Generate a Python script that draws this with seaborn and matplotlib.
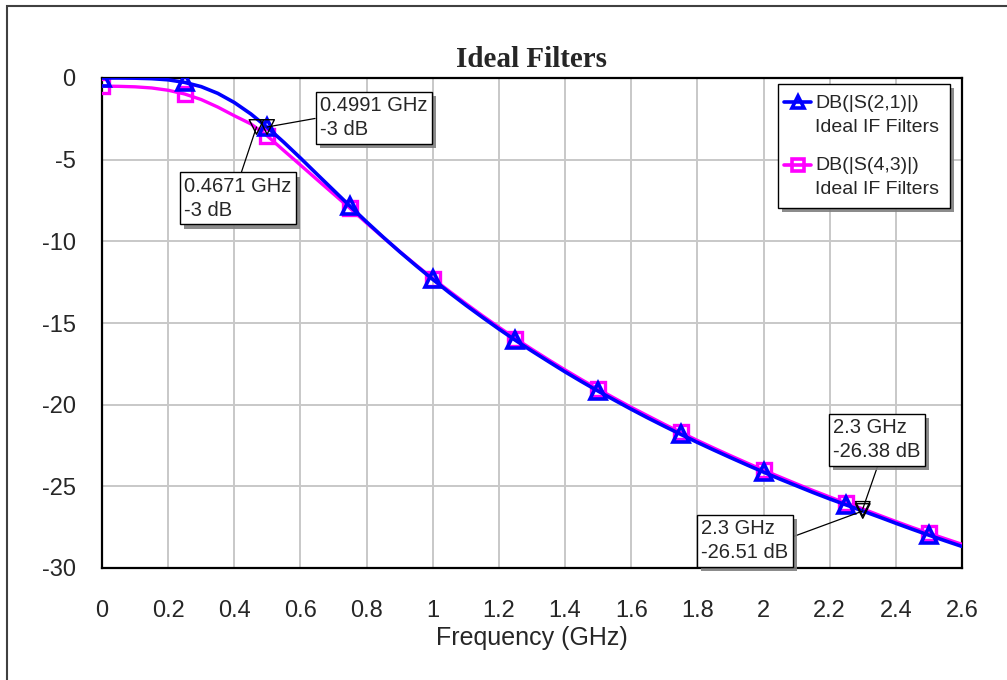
"""Ideal IF filter response, S21 vs S43 in dB."""

import matplotlib

matplotlib.use("Agg")

import matplotlib.patheffects as pe
import pandas as pd
import seaborn as sns
from matplotlib import pyplot as plt
from matplotlib.lines import Line2D
from matplotlib.patches import Rectangle

freq_ghz = [
    0.00, 0.05, 0.10, 0.15, 0.20, 0.25, 0.30, 0.35, 0.40, 0.45, 0.50,
    0.55, 0.60, 0.65, 0.70, 0.75, 0.80, 0.85, 0.90, 0.95, 1.00,
    1.05, 1.10, 1.15, 1.20, 1.25, 1.30, 1.35, 1.40, 1.45, 1.50,
    1.55, 1.60, 1.65, 1.70, 1.75, 1.80, 1.85, 1.90, 1.95, 2.00,
    2.05, 2.10, 2.15, 2.20, 2.25, 2.30, 2.35, 2.40, 2.45, 2.50,
    2.55, 2.60,
]
s21_db = [
    0.00, 0.00, -0.01, -0.04, -0.11, -0.27, -0.53, -0.94, -1.50, -2.20, -3.03,
    -3.94, -4.90, -5.89, -6.87, -7.85, -8.81, -9.74, -10.64, -11.50, -12.33,
    -13.14, -13.91, -14.65, -15.37, -16.06, -16.72, -17.36, -17.99, -18.59, -19.17,
    -19.73, -20.28, -20.81, -21.32, -21.82, -22.31, -22.78, -23.24, -23.69, -24.13,
    -24.56, -24.97, -25.38, -25.77, -26.14, -26.51, -26.88, -27.26, -27.63, -27.99,
    -28.34, -28.68,
]
s43_db = [
    -0.50, -0.51, -0.54, -0.61, -0.75, -0.98, -1.32, -1.78, -2.31, -2.81, -3.55,
    -4.45, -5.33, -6.22, -7.10, -7.98, -8.88, -9.76, -10.62, -11.46, -12.28,
    -13.05, -13.81, -14.55, -15.26, -15.95, -16.61, -17.25, -17.87, -18.47, -19.05,
    -19.61, -20.16, -20.68, -21.20, -21.70, -22.19, -22.66, -23.12, -23.57, -24.01,
    -24.43, -24.85, -25.26, -25.65, -26.04, -26.38, -26.77, -27.15, -27.52, -27.87,
    -28.21, -28.55,
]
trace_names = ["DB(|S(2,1)|)", "DB(|S(4,3)|)"]
trace_source = "Ideal IF Filters"

# marker readouts
marker_freq = [0.4991, 0.4671, 2.3, 2.3]
marker_db = [-3.0, -3.0, -26.38, -26.51]
marker_text = ["0.4991 GHz\n-3 dB", "0.4671 GHz\n-3 dB", "2.3 GHz\n-26.38 dB", "2.3 GHz\n-26.51 dB"]

sns.set_style("white")
plt.rcParams["font.family"] = ["Liberation Sans", "DejaVu Sans"]
plt.rcParams["axes.unicode_minus"] = False

blue = "#0000ff"
pink = "#ff00ff"
W, H = 1007, 680


def fx(px):
    return px / W


def fy(py):
    return 1 - py / H


frame = pd.DataFrame({"freq": freq_ghz, "s21": s21_db, "s43": s43_db})

fig = plt.figure(figsize=(10.07, 6.8), dpi=100)
ax = fig.add_axes([fx(102), fy(568), 860 / W, 490 / H])

sns.lineplot(data=frame, x="freq", y="s43", ax=ax, color=pink, linewidth=2.4,
             marker="s", markersize=10, markerfacecolor="none", markeredgecolor=pink,
             markeredgewidth=2.4, markevery=5, zorder=3)
sns.lineplot(data=frame, x="freq", y="s21", ax=ax, color=blue, linewidth=2.6,
             marker="^", markersize=11, markerfacecolor="none", markeredgecolor=blue,
             markeredgewidth=2.6, markevery=5, zorder=4)

ax.set_xlim(0, 2.6)
ax.set_ylim(-30, 0)
ax.set_xticks([i * 0.2 for i in range(14)])
ax.set_xticklabels(["0", "0.2", "0.4", "0.6", "0.8", "1", "1.2", "1.4", "1.6", "1.8",
                    "2", "2.2", "2.4", "2.6"])
ax.set_yticks([0, -5, -10, -15, -20, -25, -30])
ax.grid(True, color="#c8c8c8", linewidth=1.4)
ax.tick_params(length=0, labelsize=17)
ax.tick_params(axis="y", pad=19)
ax.tick_params(axis="x", pad=23)
for spine in ax.spines.values():
    spine.set_color("black")
    spine.set_linewidth(1.6)
ax.set_xlabel("Frequency (GHz)", fontsize=18, labelpad=3)
ax.set_ylabel("")
ax.set_title("Ideal Filters", fontsize=21, fontweight="bold",
             family=["Liberation Serif", "DejaVu Serif"], pad=8)

# readout markers and boxes
ax.scatter(marker_freq, marker_db, marker="v", s=110, facecolors="none",
           edgecolors="black", linewidths=1.0, zorder=6)
text_pos = [(0.659, -1.10), (0.248, -6.05), (2.210, -20.82), (1.811, -27.00)]
rel_pos = [(0, 0.5), (0.52, 1), (0.53, 0), (1, 0.55)]
for mx, my, txt, pos, rp in zip(marker_freq, marker_db, marker_text, text_pos, rel_pos):
    ann = ax.annotate(
        txt, xy=(mx, my), xytext=pos, textcoords="data", ha="left", va="top",
        fontsize=14.5, linespacing=1.35, zorder=7, annotation_clip=False,
        bbox=dict(boxstyle="square,pad=0.22", fc="white", ec="black", lw=1.0),
        arrowprops=dict(arrowstyle="-", color="black", lw=0.9, shrinkA=0, shrinkB=0,
                        relpos=rp),
    )
    ann.get_bbox_patch().set_path_effects(
        [pe.SimplePatchShadow(offset=(3, -3), shadow_rgbFace="#808080", alpha=0.9), pe.Normal()]
    )

# legend box drawn by hand so the handle sits on the first text line
leg_box = Rectangle((fx(778), fy(208)), 172 / W, 124 / H, transform=fig.transFigure,
                    fc="white", ec="black", lw=1.0, zorder=8)
leg_box.set_path_effects(
    [pe.SimplePatchShadow(offset=(3, -3), shadow_rgbFace="#808080", alpha=0.9), pe.Normal()]
)
fig.add_artist(leg_box)
leg_styles = [(blue, "^", 9, 102), (pink, "s", 8, 165)]
for name, (col, mk, ms, ypx) in zip(trace_names, leg_styles):
    fig.add_artist(Line2D([fx(784), fx(811)], [fy(ypx), fy(ypx)], transform=fig.transFigure,
                          color=col, lw=2.6, zorder=9))
    fig.add_artist(Line2D([fx(797.5)], [fy(ypx)], transform=fig.transFigure, color=col,
                          marker=mk, markersize=ms, markerfacecolor="none",
                          markeredgewidth=2.6, zorder=9))
    fig.text(fx(815), fy(ypx + 1), name, fontsize=14, va="center", ha="left", zorder=9)
    fig.text(fx(815), fy(ypx + 25), trace_source, fontsize=14, va="center", ha="left", zorder=9)

# outer frame of the graph window
fig.patches.append(Rectangle((fx(7), -0.1), 1.2, 1.1 - 6 / H, transform=fig.transFigure,
                             fill=False, ec="#404040", lw=1.5))

fig.savefig("out.png", dpi=100)
plt.close(fig)
